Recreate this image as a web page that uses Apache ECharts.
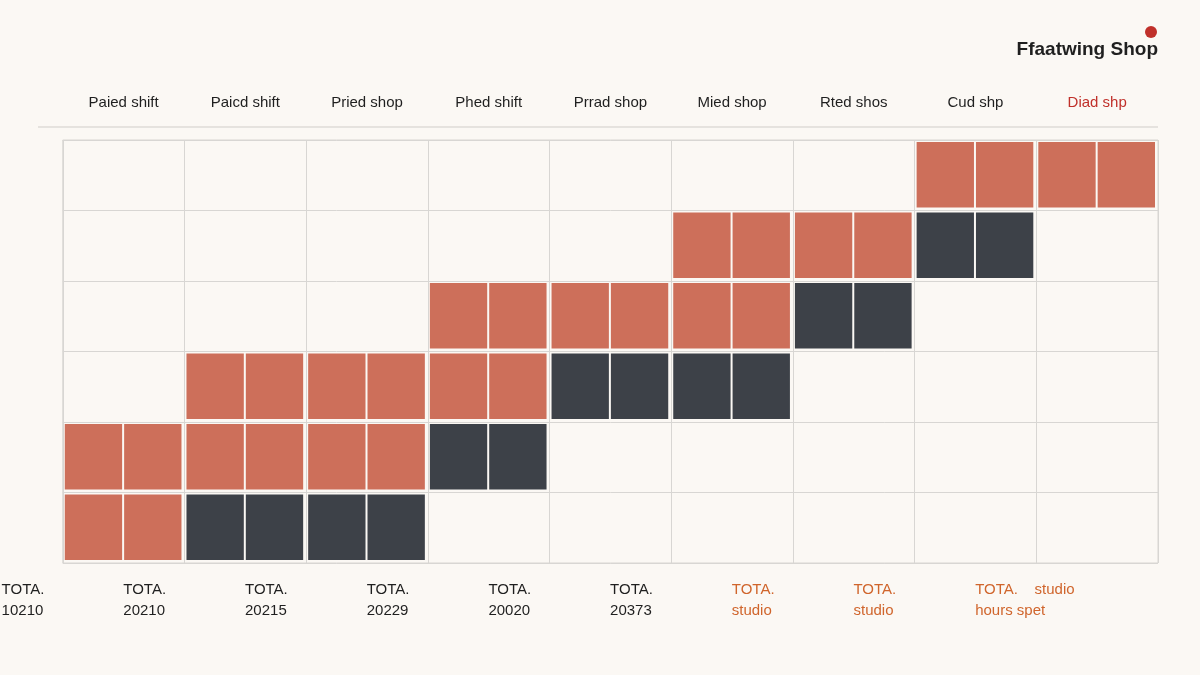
<!DOCTYPE html>
<html><head><meta charset="utf-8">
<script src="https://cdn.jsdelivr.net/npm/echarts@6/dist/echarts.min.js"></script>
<style>html,body{margin:0;background:#FBF8F4}#c{width:1200px;height:675px}</style>
</head><body><div id="c"></div>
<script>
const headers = ["Paied shift","Paicd shift","Pried shop","Phed shift","Prrad shop","Mied shop","Rted shos","Cud shp","Diad shp"];
const headerColors = ["#1f1f1f","#1f1f1f","#1f1f1f","#1f1f1f","#1f1f1f","#1f1f1f","#1f1f1f","#1f1f1f","#C0302A"];
const footerTop = ["TOTA.","TOTA.","TOTA.","TOTA.","TOTA.","TOTA.","TOTA.","TOTA.","TOTA.    studio"];
const footerBottom = ["10210","20210","20215","20229","20020","20373","studio","studio","hours spet"];
const footerOrange = [false,false,false,false,false,false,true,true,true];
const rows = ["r0","r1","r2","r3","r4","r5"];
// [column, row (0 = top), kind: 0 orange, 1 dark]
const cells = [
 [0,4,0],[0,5,0],
 [1,3,0],[1,4,0],[1,5,1],
 [2,3,0],[2,4,0],[2,5,1],
 [3,2,0],[3,3,0],[3,4,1],
 [4,2,0],[4,3,1],
 [5,1,0],[5,2,0],[5,3,1],
 [6,1,0],[6,2,1],
 [7,0,0],[7,1,1],
 [8,0,0]
];
const kindColors = ["#CD6F5A","#3D4148"];
const chart = echarts.init(document.getElementById('c'));
const rich = {};
chart.setOption({
 backgroundColor:'#FBF8F4',
 animation:false,
 grid:{left:38,right:42,top:140,bottom:112,show:true,borderColor:'#d8d6d3',borderWidth:1},
 xAxis:[
  {type:'category',data:headers,position:'top',offset:22,axisLine:{show:false},axisTick:{show:false},
   splitLine:{show:true,lineStyle:{color:'#d8d6d3'}},
   axisLabel:{interval:0,fontSize:15,fontFamily:'Liberation Sans, Arial',color:(v,i)=>headerColors[i]}},
  {type:'category',data:headers.map((h,i)=>i),position:'bottom',offset:8,axisLine:{show:false},axisTick:{show:false},
   axisLabel:{interval:0,align:'left',padding:[0,0,0,-122],lineHeight:21,
    formatter:(v)=>{const i=+v;const s=footerOrange[i]?'o':'k';return '{'+s+'|'+footerTop[i]+'}\n{'+s+'|'+footerBottom[i]+'}';},
    rich:{k:{fontSize:15,color:'#1f1f1f',fontFamily:'Liberation Sans, Arial',lineHeight:21},
          o:{fontSize:15,color:'#D0652C',fontFamily:'Liberation Sans, Arial',lineHeight:21}}}}
 ],
 yAxis:{type:'category',data:rows,inverse:true,axisLine:{show:false},axisTick:{show:false},axisLabel:{show:false},
   splitLine:{show:true,lineStyle:{color:'#d8d6d3'}}},
 graphic:[
  {type:'line',shape:{x1:38,y1:127,x2:1158,y2:127},style:{stroke:'#d0cdc9',lineWidth:1}},
  {type:'text',right:42,top:40,style:{text:'Ffaatwing Shop',font:'bold 19px Liberation Sans, Arial',fill:'#1f1f1f'}},
  {type:'circle',shape:{cx:1151,cy:32,r:6},style:{fill:'#C0302A'}}
 ],
 series:[{type:'custom',coordinateSystem:'cartesian2d',data:cells,
  renderItem:(params,api)=>{
   const p=api.coord([api.value(0),api.value(1)]);
   const s=api.size([1,1]);
   const x0=p[0]-s[0]/2+2, y0=p[1]-s[1]/2+2, w=s[0]-5, h=s[1]-5;
   const half=(w-2)/2;
   const c=kindColors[api.value(2)];
   return {type:'group',children:[
    {type:'rect',shape:{x:x0,y:y0,width:half,height:h},style:{fill:c}},
    {type:'rect',shape:{x:x0+half+2,y:y0,width:half,height:h},style:{fill:c}}
   ]};
  }}]
});
</script></body></html>
